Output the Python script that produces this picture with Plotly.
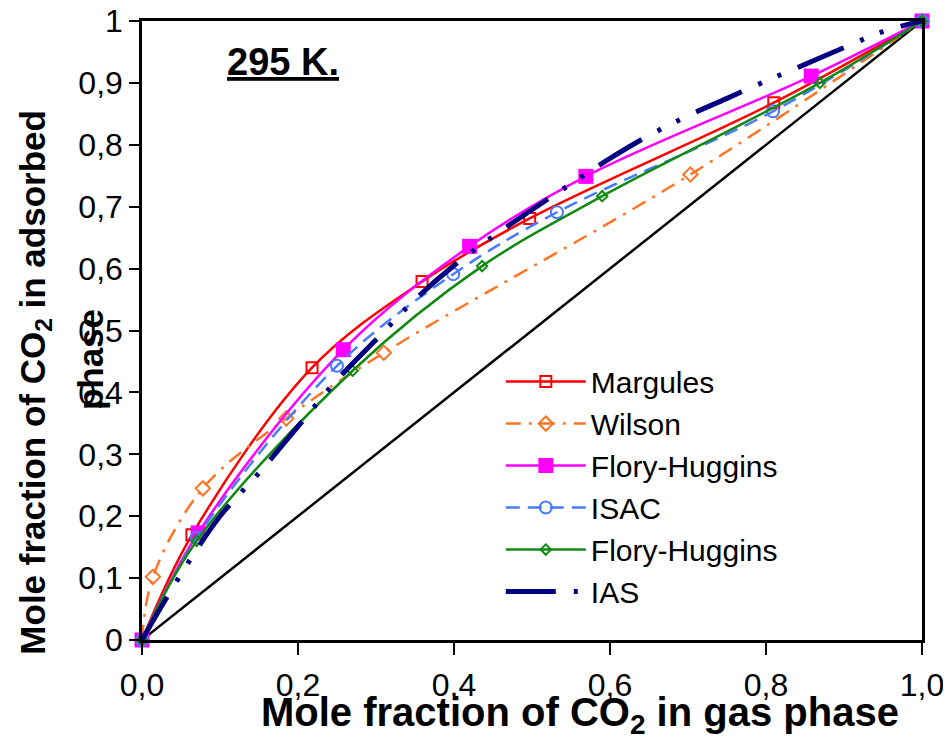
import plotly.graph_objects as go

# ---- data ----
marg_x = [0.0, 0.064, 0.218, 0.359, 0.497, 0.81, 1.0]
marg_y = [0.0, 0.170, 0.440, 0.579, 0.681, 0.868, 1.0]

wil_x = [0.0, 0.014, 0.078, 0.185, 0.31, 0.703, 1.0]
wil_y = [0.0, 0.102, 0.245, 0.358, 0.464, 0.752, 1.0]

fh_x = [0.0, 0.072, 0.258, 0.42, 0.569, 0.858, 1.0]
fh_y = [0.0, 0.173, 0.469, 0.636, 0.749, 0.911, 1.0]

isac_x = [0.0, 0.07, 0.25, 0.399, 0.532, 0.809, 1.0]
isac_y = [0.0, 0.165, 0.443, 0.591, 0.691, 0.854, 1.0]

fh2_x = [0.0, 0.07, 0.27, 0.436, 0.59, 0.869, 1.0]
fh2_y = [0.0, 0.160, 0.435, 0.604, 0.717, 0.900, 1.0]

ias_x = [0.0, 0.03, 0.07, 0.10, 0.15, 0.20, 0.25, 0.30, 0.35, 0.40, 0.45,
         0.50, 0.55, 0.60, 0.65, 0.70, 0.75, 0.80, 0.85, 0.90, 0.95, 1.0]
ias_y = [0.0, 0.065, 0.146, 0.20, 0.27, 0.345, 0.42, 0.485, 0.55, 0.605, 0.652,
         0.695, 0.737, 0.778, 0.815, 0.847, 0.875, 0.903, 0.930, 0.957, 0.983, 1.0]

diag_x = [0.0, 1.0]
diag_y = [0.0, 1.0]

x_ticks = [0.0, 0.2, 0.4, 0.6, 0.8, 1.0]
x_ticktext = ["0,0", "0,2", "0,4", "0,6", "0,8", "1,0"]
y_ticks = [0.0, 0.1, 0.2, 0.3, 0.4, 0.5, 0.6, 0.7, 0.8, 0.9, 1.0]
y_ticktext = ["0", "0,1", "0,2", "0,3", "0,4", "0,5", "0,6", "0,7", "0,8", "0,9", "1"]

FONT = "Liberation Sans, Arial, sans-serif"

fig = go.Figure()

fig.add_trace(go.Scatter(x=diag_x, y=diag_y, mode="lines", showlegend=False,
                         line=dict(color="black", width=2.5), hoverinfo="skip"))

fig.add_trace(go.Scatter(x=marg_x, y=marg_y, mode="lines+markers", name="Margules",
                         line=dict(color="#FF0000", width=2.5, shape="spline"),
                         marker=dict(symbol="square-open", size=11, color="#FF0000",
                                     line=dict(width=2)), cliponaxis=False))
fig.add_trace(go.Scatter(x=wil_x, y=wil_y, mode="lines+markers", name="Wilson",
                         line=dict(color="#FF7424", width=2.5, shape="spline",
                                   dash="15px,8px,3px,8px"),
                         marker=dict(symbol="diamond-open", size=11, color="#FF7424",
                                     line=dict(width=2)), cliponaxis=False))
fig.add_trace(go.Scatter(x=fh_x, y=fh_y, mode="lines+markers", name="Flory-Huggins",
                         line=dict(color="#FF00FF", width=2.5, shape="spline"),
                         marker=dict(symbol="square", size=15, color="#FF00FF"),
                         cliponaxis=False))
fig.add_trace(go.Scatter(x=isac_x, y=isac_y, mode="lines+markers", name="ISAC",
                         line=dict(color="#4A7BFF", width=2.5, shape="spline",
                                   dash="14px,8px"),
                         marker=dict(symbol="circle-open", size=12, color="#4A7BFF",
                                     line=dict(width=2)), cliponaxis=False))
fig.add_trace(go.Scatter(x=fh2_x, y=fh2_y, mode="lines+markers", name="Flory-Huggins",
                         line=dict(color="#108A10", width=2.5, shape="spline"),
                         marker=dict(symbol="diamond-open", size=8, color="#108A10",
                                     line=dict(width=2)), cliponaxis=False))
fig.add_trace(go.Scatter(x=ias_x, y=ias_y, mode="lines", name="IAS",
                         line=dict(color="#000080", width=5, shape="spline",
                                   dash="50px,18px,4px,17px,4px,18px"),
                         cliponaxis=False))

fig.update_layout(
    width=943, height=732,
    margin=dict(l=134, r=29, t=13, b=100, autoexpand=False),
    paper_bgcolor="white", plot_bgcolor="white",
    font=dict(family=FONT, color="black", size=30),
    showlegend=True,
    legend=dict(x=0.46, y=0.4595, xanchor="left", yanchor="top",
                bgcolor="rgba(0,0,0,0)", borderwidth=0,
                font=dict(family=FONT, size=30, color="black"),
                itemwidth=80, tracegroupgap=0),
    xaxis=dict(range=[0, 1], tickvals=x_ticks, ticktext=x_ticktext,
               showgrid=False, zeroline=False, showline=True, linecolor="black",
               linewidth=2.5, mirror=True, ticks="outside", ticklen=12,
               tickwidth=2, tickcolor="black", ticklabelstandoff=3,
               automargin=False, ticklabeloverflow="allow",
               tickfont=dict(family=FONT, size=32, color="black")),
    yaxis=dict(range=[0, 1], tickvals=y_ticks, ticktext=y_ticktext,
               showgrid=False, zeroline=False, showline=True, linecolor="black",
               linewidth=2.5, mirror=True, ticks="outside", ticklen=10,
               tickwidth=2, tickcolor="black", ticklabelstandoff=0,
               automargin=False, ticklabeloverflow="allow",
               tickfont=dict(family=FONT, size=32, color="black")),
)

fig.add_annotation(text="Mole fraction of CO<sub>2</sub> in gas phase",
                   xref="paper", yref="paper", x=0.562, y=-0.1215,
                   xanchor="center", yanchor="middle", showarrow=False,
                   font=dict(family=FONT, size=40, color="black", weight="bold"))
fig.add_annotation(text="Mole fraction of CO<sub>2</sub> in adsorbed",
                   xref="paper", yref="paper", x=-0.137, y=0.416, textangle=-90,
                   xanchor="center", yanchor="middle", showarrow=False,
                   font=dict(family=FONT, size=35, color="black", weight="bold"))
fig.add_annotation(text="phase",
                   xref="paper", yref="paper", x=-0.066, y=0.453, textangle=-90,
                   xanchor="center", yanchor="middle", showarrow=False,
                   font=dict(family=FONT, size=35, color="black", weight="bold"))
fig.add_annotation(text="<u>295 K.</u>",
                   xref="paper", yref="paper", x=0.181, y=0.934,
                   xanchor="center", yanchor="middle", showarrow=False,
                   font=dict(family=FONT, size=38, color="black", weight="bold"))

fig.write_html("out.html")
